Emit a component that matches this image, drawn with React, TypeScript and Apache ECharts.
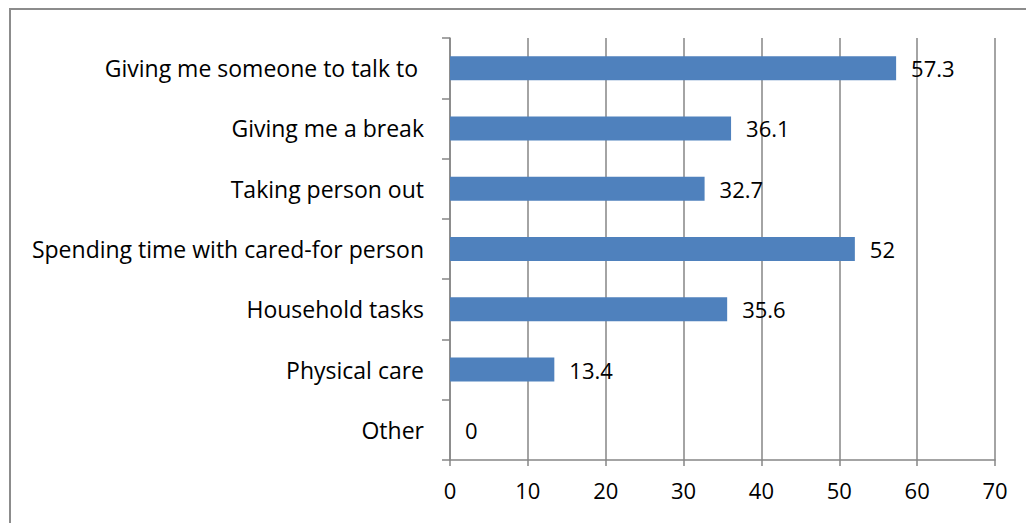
import React, { useEffect, useRef } from "react";
import * as echarts from "echarts";

const categories = [
  "Giving me someone to talk to ",
  "Giving me a break",
  "Taking person out",
  "Spending time with cared-for person",
  "Household tasks",
  "Physical care",
  "Other",
];
const values = [57.3, 36.1, 32.7, 52, 35.6, 13.4, 0];

const FONT = "Open Sans";

export default function App() {
  const ref = useRef<HTMLDivElement>(null);
  useEffect(() => {
    if (!ref.current) return;
    const chart = echarts.init(ref.current, undefined, { renderer: "svg" });
    chart.setOption({
      animation: false,
      backgroundColor: "#ffffff",
      graphic: [
        {
          type: "rect",
          shape: { x: 10, y: 9, width: 1100, height: 600 },
          style: { fill: "none", stroke: "#8c8c8c", lineWidth: 2 },
          silent: true,
        },
      ],
      grid: { left: 450, right: 31, top: 38, bottom: 63, containLabel: false },
      xAxis: {
        type: "value",
        min: 0,
        max: 70,
        interval: 10,
        axisLine: { show: true, lineStyle: { color: "#868686", width: 1.5 } },
        axisTick: { show: true, length: 6, lineStyle: { color: "#868686", width: 1.5 } },
        splitLine: { show: true, lineStyle: { color: "#868686", width: 1.5 } },
        axisLabel: { color: "#000", fontSize: 22, fontFamily: FONT, margin: 19 },
      },
      yAxis: {
        type: "category",
        inverse: true,
        data: categories,
        axisLine: { show: true, lineStyle: { color: "#868686", width: 1.5 } },
        axisTick: { show: true, length: 8, lineStyle: { color: "#868686", width: 1.5 } },
        axisLabel: { color: "#000", fontSize: 23, fontFamily: FONT, margin: 26 },
      },
      series: [
        {
          type: "bar",
          data: values,
          barWidth: 24,
          itemStyle: { color: "#4F81BD" },
          label: {
            show: true,
            position: "right",
            distance: 15,
            color: "#000",
            fontSize: 22,
            fontFamily: FONT,
          },
        },
      ],
    });
    return () => chart.dispose();
  }, []);
  return (
    <div
      ref={ref}
      style={{ position: "fixed", left: 0, top: 0, width: 1026, height: 523 }}
    />
  );
}
